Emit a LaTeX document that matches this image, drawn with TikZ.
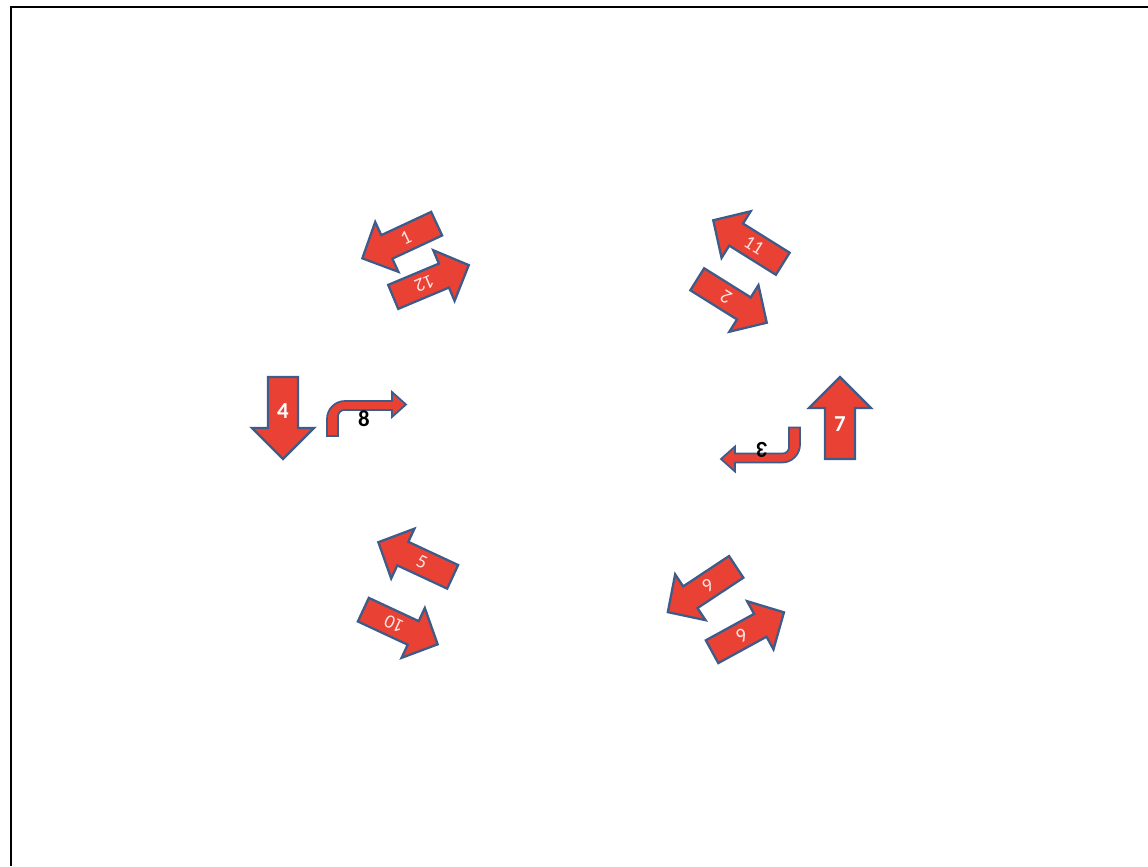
\documentclass[tikz,border=0pt]{standalone}
\usepackage{fontspec}
\setmainfont{Carlito}
\definecolor{arrowred}{RGB}{233,66,52}
\definecolor{arrowedge}{RGB}{62,92,138}

% outline of the bent arrow (number 8), in pixel units
\newcommand\bentshape{(327,436) -- (327,419) .. controls (327,409) and (335,401) .. (345,401)
  -- (392,401) -- (392,392) -- (406,404.5) -- (392,417) -- (392,410) -- (344,410)
  .. controls (341,410) and (338,413) .. (338,416) -- (338,436) -- cycle}

\tikzset{
  arrowbody/.style={draw=arrowedge,fill=arrowred,line width=1.3pt,line join=miter},
  numlabel/.style={inner sep=0pt,font=\fontsize{11}{13}\selectfont,text=white!85!arrowred},
  biglabel/.style={inner sep=0pt,font=\bfseries\fontsize{13}{15}\selectfont,text=white},
  bentlabel/.style={inner sep=0pt,font=\bfseries\fontsize{13}{15}\selectfont,text=black},
  pics/clockarrow/.style={code={
    \draw[arrowbody] (-41,-13) -- (14,-13) -- (14,-27.5) -- (41,0) -- (14,27.5) -- (14,13) -- (-41,13) -- cycle;
    \node[numlabel,transform shape,rotate=180] (-label) at (-7,0) {#1};
  }},
  pics/bigarrow/.style={code={
    \draw[arrowbody] (-41,-15) -- (10,-15) -- (10,-31) -- (41,0) -- (10,31) -- (10,15) -- (-41,15) -- cycle;
    \node[biglabel] (-label) at (-6.5,0) {#1};
  }}
}

\begin{document}
\begin{tikzpicture}[x=0.02cm,y=-0.02cm]
\useasboundingbox (0,0) rectangle (1148,866);
\draw[line width=1.7pt] (1148,7) -- (11,7) -- (11,866);

% upper left pair
\pic[rotate=205] (a1) at (399.5,241) {clockarrow={1}};
\pic[rotate=22.8] (a12) at (431,281) {clockarrow={12}};
% upper right pair
\pic[rotate=148] (a11) at (748,242) {clockarrow={11}};
\pic[rotate=-32] (a2) at (732,301) {clockarrow={2}};
% left and right
\pic[rotate=-90] (a4) at (283,418) {bigarrow={4}};
\pic[rotate=90] (a7) at (840,418) {bigarrow={7}};
% lower left pair
\pic[rotate=155] (a5) at (415.5,559.5) {clockarrow={5}};
\pic[rotate=-25] (a10) at (400.5,627) {clockarrow={10}};
% lower right pair
\pic[rotate=213.5] (a9) at (702,589.5) {clockarrow={9}};
\pic[rotate=28.7] (a6) at (748,632) {clockarrow={6}};

% bent arrows
\draw[arrowbody,line width=1pt] \bentshape;
\draw[arrowbody,line width=1pt,rotate around={180:(563.5,431.75)}] \bentshape;
\node[bentlabel] (l8) at (364,419) {8};
\node[bentlabel,rotate=180] (l3) at (762,450) {3};
\end{tikzpicture}
\end{document}
